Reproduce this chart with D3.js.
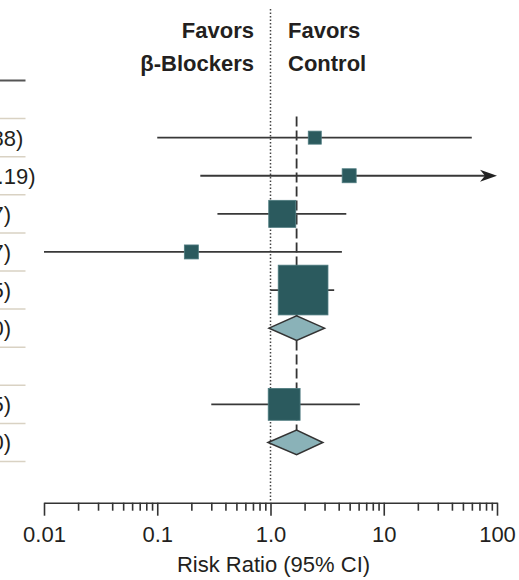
<!DOCTYPE html>
<html>
<head>
<meta charset="utf-8">
<script src="https://cdn.jsdelivr.net/npm/d3@7"></script>
<style>
  body { margin: 0; background: #fff; }
  svg { display: block; }
  text { font-family: "Liberation Sans", Arial, sans-serif; fill: #231f20; }
  .axis path, .axis line { stroke: #333; stroke-width: 1.6; }
  .axis text { font-size: 22px; }
</style>
</head>
<body>
<svg id="the-svg" width="519" height="580"></svg>
<script>
// Rows of the forest plot, top to bottom (header rows carry no estimate)
const ROW_KINDS = ['header', 'study', 'study', 'study', 'study', 'study', 'pooled', 'header', 'study', 'pooled'];
const RISK_RATIO = [null, 2.46, 4.95, 1.27, 0.20, 1.94, 1.70, null, 1.32, 1.70];
const CI_LOWER = [null, 0.10, 0.24, 0.34, 0.01, 1.00, 0.97, null, 0.30, 0.95];
const CI_UPPER = [null, 59.88, 103.19, 4.67, 4.27, 3.65, 3.00, null, 6.15, 2.90];
const WEIGHTS = [null, 4.5, 5.2, 19.4, 5.2, 65.7, null, null, 27.0, null];

const OVERALL_RR = 1.70;

const MAJOR_TICKS = [0.01, 0.1, 1, 10, 100];
const TICK_LABELS = ['0.01', '0.1', '1.0', '10', '100'];
const AXIS_TITLE = 'Risk Ratio (95% CI)';
const LEFT_HEADER = ['Favors', 'β-Blockers'];
const RIGHT_HEADER = ['Favors', 'Control'];

const SQUARE_FILL = '#2b5a5e';
const DIAMOND_FILL = '#8ab2b8';
const LINE_COLOR = '#383838';

const svg = d3.select('#the-svg');

const x = d3.scaleLog().domain([0.01, 100]).range([44, 497]);
const y = d3.scaleBand().domain(d3.range(ROW_KINDS.length)).range([80.5, 461.5]);
const half = y.bandwidth() / 2;
const size = d3.scaleSqrt().domain([0, 100]).range([0, 61.4]);
const fmt = d3.format('.2f');

const rows = ROW_KINDS.map((kind, i) => ({
  i, kind,
  rr: RISK_RATIO[i], lo: CI_LOWER[i], hi: CI_UPPER[i], w: WEIGHTS[i]
}));
const estRows = rows.filter(d => d.kind !== 'header');

//////////////////////
// Left label column //
//////////////////////

svg.append('line')
  .attr('x1', -200).attr('x2', 25.5)
  .attr('y1', y.range()[0]).attr('y2', y.range()[0])
  .attr('stroke', '#555').attr('stroke-width', 2);

svg.append('g').selectAll('line')
  .data(rows)
  .join('line')
    .attr('x1', -200).attr('x2', 25.5)
    .attr('y1', d => y(d.i) + y.bandwidth())
    .attr('y2', d => y(d.i) + y.bandwidth())
    .attr('stroke', '#d9d2c3').attr('stroke-width', 1.5);

svg.append('g').selectAll('text')
  .data(estRows)
  .join('text')
    .attr('x', -145.5)
    .attr('y', d => y(d.i) + half + 8)
    .attr('font-size', 22)
    .text(d => `${fmt(d.rr)} (${fmt(d.lo)}-${fmt(d.hi)})`);

///////////////
// Reference //
///////////////

svg.append('line')
  .attr('x1', x(1)).attr('x2', x(1))
  .attr('y1', 9).attr('y2', 502)
  .attr('stroke', '#444').attr('stroke-width', 1.5)
  .attr('stroke-dasharray', '1.5,2');

svg.append('line')
  .attr('x1', x(OVERALL_RR)).attr('x2', x(OVERALL_RR))
  .attr('y1', y(1) - 2).attr('y2', y(9) + half)
  .attr('stroke', '#333').attr('stroke-width', 1.8)
  .attr('stroke-dasharray', '10,4');

const hdr = svg.append('g').attr('font-size', 22).attr('font-weight', 'bold');
hdr.selectAll('text.l')
  .data(LEFT_HEADER)
  .join('text')
    .attr('class', 'l')
    .attr('x', 254).attr('y', (d, i) => 37.5 + i * 33)
    .attr('text-anchor', 'end')
    .text(d => d);
hdr.selectAll('text.r')
  .data(RIGHT_HEADER)
  .join('text')
    .attr('class', 'r')
    .attr('x', 288).attr('y', (d, i) => 37.5 + i * 33)
    .text(d => d);

///////////
// Marks //
///////////

const [xMin, xMax] = x.domain();
const clip = v => Math.max(xMin, Math.min(xMax, v));

svg.append('g').selectAll('line')
  .data(rows.filter(d => d.kind === 'study'))
  .join('line')
    .attr('x1', d => x(clip(d.lo)))
    .attr('x2', d => x(clip(d.hi)) - (d.hi > xMax ? 10 : 0))
    .attr('y1', d => y(d.i) + half)
    .attr('y2', d => y(d.i) + half)
    .attr('stroke', LINE_COLOR).attr('stroke-width', 1.8);

// arrow heads for intervals running past the axis
svg.append('g').selectAll('path')
  .data(rows.filter(d => d.kind === 'study' && d.hi > xMax))
  .join('path')
    .attr('d', d => {
      const tx = x(xMax), ty = y(d.i) + half;
      return `M${tx},${ty} L${tx - 17},${ty - 6} L${tx - 12},${ty} L${tx - 17},${ty + 6} Z`;
    })
    .attr('fill', '#222');

svg.append('g').selectAll('rect')
  .data(rows.filter(d => d.kind === 'study'))
  .join('rect')
    .attr('x', d => x(d.rr) - size(d.w) / 2)
    .attr('y', d => y(d.i) + half - size(d.w) / 2)
    .attr('width', d => size(d.w))
    .attr('height', d => size(d.w))
    .attr('fill', SQUARE_FILL)
    .attr('stroke', '#4f7c80').attr('stroke-width', 0.8);

svg.append('g').selectAll('path')
  .data(rows.filter(d => d.kind === 'pooled'))
  .join('path')
    .attr('d', d => {
      const cy = y(d.i) + half, h = 12.3;
      return `M${x(d.lo)},${cy} L${x(d.rr)},${cy - h} L${x(d.hi)},${cy} L${x(d.rr)},${cy + h} Z`;
    })
    .attr('fill', DIAMOND_FILL)
    .attr('stroke', '#333').attr('stroke-width', 1.5);

//////////
// Axis //
//////////

const allTicks = [];
for (const m of MAJOR_TICKS.slice(0, -1)) {
  for (let k = 1; k < 10; k++) allTicks.push(m * k);
}
allTicks.push(MAJOR_TICKS[MAJOR_TICKS.length - 1]);

const isMajor = v => MAJOR_TICKS.some(m => Math.abs(m - v) / m < 1e-6);
const labelFor = v => {
  const idx = MAJOR_TICKS.findIndex(m => Math.abs(m - v) / m < 1e-6);
  return idx >= 0 ? TICK_LABELS[idx] : '';
};

const axisG = svg.append('g')
  .attr('class', 'axis')
  .attr('transform', 'translate(0,502.7)')
  .call(d3.axisBottom(x).tickValues(allTicks).tickFormat(labelFor).tickSize(8).tickSizeOuter(0));

axisG.selectAll('.tick line').attr('y2', d => isMajor(d) ? 13 : 8);
axisG.selectAll('.tick text')
  .attr('y', 23.5)
  .attr('fill', '#231f20')
  .attr('font-family', '"Liberation Sans", Arial, sans-serif');

svg.append('text')
  .attr('x', x(1) + 3)
  .attr('y', 571.5)
  .attr('text-anchor', 'middle')
  .attr('font-size', 22)
  .text(AXIS_TITLE);
</script>
</body>
</html>
